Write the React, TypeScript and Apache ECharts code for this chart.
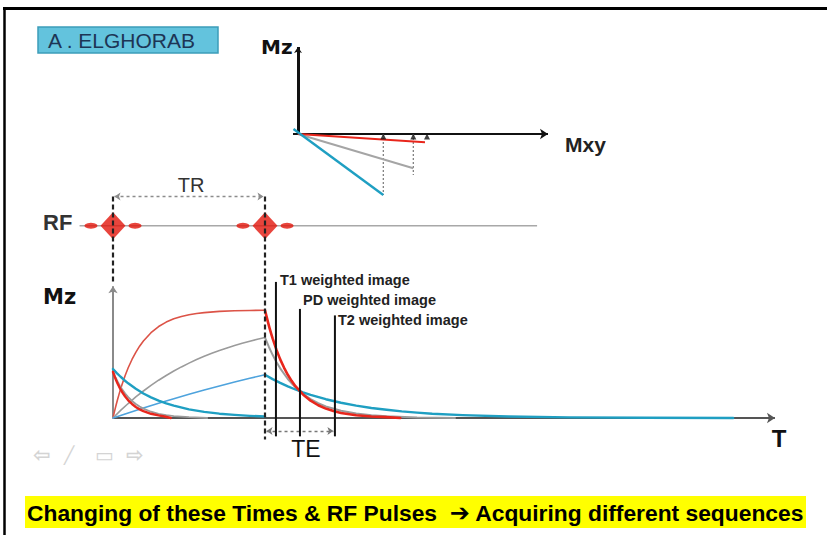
import React, { useEffect, useRef } from "react";
import * as echarts from "echarts";

// ---------- Main Mz(T) diagram data (T in arbitrary units, TR = 100) ----------
const TR = 100;
const RF_PULSE_TIMES = [0, TR];
const RF_LEVEL = 1.78;
const RF_LINE_RANGE = [-22, 279];
const RF_LOBE_OFFSET = 14.5;

const T_RED_REC = [0, 1, 2, 3, 4, 5, 6, 8, 10, 12.5, 15, 17.5, 20, 25, 30, 35, 40, 45, 50, 55, 60, 70, 80, 90, 100];
const MZ_RED_REC = [0, 0.061, 0.118, 0.171, 0.221, 0.268, 0.313, 0.393, 0.465, 0.542, 0.608, 0.665, 0.713, 0.79, 0.847, 0.888, 0.918, 0.94, 0.956, 0.968, 0.976, 0.987, 0.993, 0.996, 0.998];

const T_GRAY_REC = [0, 5, 10, 15, 20, 25, 30, 35, 40, 45, 50, 55, 60, 65, 70, 75, 80, 85, 90, 95, 100];
const MZ_GRAY_REC = [0, 0.07, 0.134, 0.195, 0.25, 0.302, 0.35, 0.394, 0.435, 0.473, 0.508, 0.541, 0.571, 0.599, 0.625, 0.649, 0.672, 0.692, 0.711, 0.729, 0.745];

const T_BLUE_REC = [0, 10, 20, 30, 40, 50, 60, 70, 80, 90, 100];
const MZ_BLUE_REC = [0, 0.047, 0.093, 0.137, 0.179, 0.22, 0.259, 0.297, 0.333, 0.368, 0.4];

const T_RED_DEC = [100, 101, 102, 103, 104, 105, 107.5, 110, 112.5, 115, 117.5, 120, 125, 130, 135, 140, 145, 150, 160, 170, 180, 189];
const MZ_RED_DEC = [0.998, 0.941, 0.885, 0.833, 0.784, 0.737, 0.633, 0.543, 0.467, 0.4, 0.344, 0.295, 0.218, 0.16, 0.118, 0.087, 0.064, 0.047, 0.026, 0.014, 0.008, 0];

const T_GRAY_DEC = [100, 102.5, 105, 107.5, 110, 115, 120, 125, 130, 135, 140, 150, 160, 170, 180, 200, 225];
const MZ_GRAY_DEC = [0.745, 0.66, 0.585, 0.519, 0.46, 0.361, 0.283, 0.223, 0.175, 0.137, 0.108, 0.067, 0.041, 0.025, 0.016, 0.005, 0];

const T_TEAL_DEC = [100, 105, 110, 115, 120, 125, 130, 140, 150, 160, 170, 180, 190, 200, 210, 230, 260, 300, 350, 408];
const MZ_TEAL_DEC = [0.4, 0.36, 0.325, 0.293, 0.264, 0.238, 0.214, 0.174, 0.141, 0.115, 0.093, 0.076, 0.061, 0.05, 0.04, 0.027, 0.014, 0.006, 0.002, 0];

const T_RED_LEFT = [0, 1, 2, 3, 4, 5, 6, 8, 10, 12.5, 15, 17.5, 20, 25, 30, 34, 38];
const MZ_RED_LEFT = [0.426, 0.387, 0.352, 0.32, 0.291, 0.265, 0.241, 0.199, 0.164, 0.13, 0.102, 0.08, 0.063, 0.039, 0.024, 0.014, 0];

const T_GRAY_LEFT = [0, 1.5, 3, 4.5, 6, 8, 10, 12.5, 15, 17.5, 20, 25, 30, 35, 40, 50, 62];
const MZ_GRAY_LEFT = [0.43, 0.381, 0.338, 0.3, 0.266, 0.227, 0.193, 0.158, 0.13, 0.106, 0.087, 0.058, 0.039, 0.026, 0.018, 0.008, 0];

const T_TEAL_LEFT = [0, 2.5, 5, 7.5, 10, 15, 20, 25, 30, 35, 40, 50, 60, 70, 80, 90, 100];
const MZ_TEAL_LEFT = [0.454, 0.416, 0.382, 0.35, 0.321, 0.27, 0.227, 0.191, 0.161, 0.135, 0.114, 0.08, 0.057, 0.04, 0.029, 0.02, 0.014];

const TE_LABELS = ["T1 weighted image", "PD weighted image", "T2 weighted image"];
const TE_TIMES = [107.2, 123, 146];
const TE_TOPS = [1.26, 1.01, 0.95];
const TE_BOTTOM = -0.17;
const TE_ARROW_LEVEL = -0.12;
const TR_ARROW_LEVEL = 2.05;
const T_AXIS_END = 435.5;
const MZ_AXIS_END = 1.22;

// ---------- Vector diagram data ----------
const VEC_TEAL = [[-0.045, 0.05], [0.853, -0.61]];
const VEC_GRAY = [[0, 0], [1.153, -0.343]];
const VEC_RED = [[0, 0], [1.27, -0.083]];
const VEC_DROP_X = [0.853, 1.153];
const VEC_DROP_Y = [-0.61, -0.41];
const VEC_MARK_X = [0.853, 1.153, 1.29];
const VEC_MZ_END = 0.87;
const VEC_MXY_RANGE = [-0.05, 2.5];

const zip = (t: number[], v: number[]) => t.map((x, i) => [x, v[i]]);

const FONT = '"Liberation Sans", Arial, sans-serif';
const BOLD_FONT = '"DejaVu Sans", "Liberation Sans", sans-serif';

function curve(name: string, data: number[][], color: string, width: number, z = 3) {
  return {
    name,
    type: "line",
    data,
    symbol: "none",
    smooth: false,
    silent: true,
    z,
    lineStyle: { color, width, join: "round", cap: "round" },
  };
}

function seg(name: string, data: number[][], color: string, width: number, type: any = "solid", xi = 0, z = 2) {
  return {
    name,
    type: "line",
    xAxisIndex: xi,
    yAxisIndex: xi,
    data,
    symbol: "none",
    silent: true,
    z,
    lineStyle: { color, width, type },
  };
}

function arrowLine(name: string, coords: number[][], color: string, width: number, symbol: any, size: number, type: any = "solid", xi = 0) {
  return {
    name,
    type: "lines",
    coordinateSystem: "cartesian2d",
    xAxisIndex: xi,
    yAxisIndex: xi,
    silent: true,
    z: 2,
    symbol,
    symbolSize: size,
    lineStyle: { color, width, type, opacity: 1 },
    data: [{ coords }],
  };
}

export default function App() {
  const ref = useRef<HTMLDivElement>(null);
  useEffect(() => {
    document.body.style.margin = "0";
    const chart = echarts.init(ref.current!, null, { renderer: "svg" });

    const RED = "#e8261c";
    const RED_THIN = "#dc5347";
    const GRAY = "#9b9b9b";
    const BLUE = "#4ea3dd";
    const TEAL = "#1f9fc2";

    const series: any[] = [
      arrowLine("T axis", [[0, 0], [T_AXIS_END, 0]], "#555", 2, ["none", "arrow"], 8),
      arrowLine("Mz axis", [[0, 0], [0, MZ_AXIS_END]], "#8a8a8a", 2, ["none", "arrow"], 7),
      seg("RF line", [[RF_LINE_RANGE[0], RF_LEVEL], [RF_LINE_RANGE[1], RF_LEVEL]], "#a8a8a8", 1.3),
      {
        name: "RF lobes",
        type: "scatter",
        data: RF_PULSE_TIMES.flatMap((t) => [[t - RF_LOBE_OFFSET, RF_LEVEL], [t + RF_LOBE_OFFSET, RF_LEVEL]]),
        symbol: "circle",
        symbolSize: [13, 6],
        itemStyle: { color: "#e2170c" },
        silent: true,
        z: 4,
      },
      {
        name: "RF pulses",
        type: "scatter",
        data: RF_PULSE_TIMES.map((t) => [t, RF_LEVEL]),
        symbol: "diamond",
        symbolSize: [25, 27],
        itemStyle: { color: "#e2170c" },
        silent: true,
        z: 4,
      },
      seg("TR left", [[0, TR_ARROW_LEVEL], [0, MZ_AXIS_END + 0.02]], "#222", 2.2, [5, 3], 0, 5),
      seg("TR right", [[TR, TR_ARROW_LEVEL], [TR, -0.2]], "#222", 2.2, [5, 3], 0, 5),
      arrowLine("TR arrow", [[1, TR_ARROW_LEVEL], [TR - 1, TR_ARROW_LEVEL]], "#8c8c8c", 1.3, ["arrow", "arrow"], 6, [3, 3]),
      curve("Red recovery", zip(T_RED_REC, MZ_RED_REC), RED_THIN, 1.6),
      curve("Gray recovery", zip(T_GRAY_REC, MZ_GRAY_REC), GRAY, 1.6),
      curve("Blue recovery", zip(T_BLUE_REC, MZ_BLUE_REC), BLUE, 1.6),
      curve("Gray left", zip(T_GRAY_LEFT, MZ_GRAY_LEFT), GRAY, 1.8),
      curve("Teal left", zip(T_TEAL_LEFT, MZ_TEAL_LEFT), TEAL, 2.4),
      curve("Red left", zip(T_RED_LEFT, MZ_RED_LEFT), RED, 2.4),
      curve("Gray decay", zip(T_GRAY_DEC, MZ_GRAY_DEC), GRAY, 2),
      curve("Teal decay", zip(T_TEAL_DEC, MZ_TEAL_DEC), TEAL, 2.4),
      curve("Red decay", zip(T_RED_DEC, MZ_RED_DEC), RED, 2.6, 4),
      ...TE_TIMES.map((t, i) => seg(TE_LABELS[i], [[t, TE_BOTTOM], [t, TE_TOPS[i]]], "#111", 2, "solid", 0, 6)),
      arrowLine("TE arrow", [[TR + 1, TE_ARROW_LEVEL], [TE_TIMES[2] - 1, TE_ARROW_LEVEL]], "#777", 1.3, ["arrow", "arrow"], 6, [3, 3]),
      arrowLine("Vec Mz", [[0, 0], [0, VEC_MZ_END]], "#111", 3, ["none", "arrow"], 6, "solid", 1),
      arrowLine("Vec Mxy", [[VEC_MXY_RANGE[0], 0], [VEC_MXY_RANGE[1], 0]], "#111", 2, ["none", "arrow"], 8, "solid", 1),
      ...VEC_DROP_X.map((x, i) => seg("drop" + i, [[x, 0], [x, VEC_DROP_Y[i]]], "#777", 1.2, [2, 2], 1, 2)),
      seg("Vec gray", VEC_GRAY, "#a5a5a5", 2, "solid", 1, 3),
      seg("Vec red", VEC_RED, "#e8261c", 2, "solid", 1, 3),
      seg("Vec teal", VEC_TEAL, "#1f9fc2", 2.4, "solid", 1, 3),
      {
        name: "Vec marks",
        type: "scatter",
        xAxisIndex: 1,
        yAxisIndex: 1,
        data: VEC_MARK_X.map((x) => [x, -0.025]),
        symbol: "triangle",
        symbolSize: [6, 6],
        itemStyle: { color: "#111" },
        silent: true,
        z: 5,
      },
    ];

    const txt = (text: string, x: number, y: number, font: string, fill = "#111", align = "left") => ({
      type: "text",
      x,
      y,
      silent: true,
      style: { text, font, fill, align, verticalAlign: "middle" },
    });

    const option: any = {
      animation: false,
      backgroundColor: "#ffffff",
      grid: [
        { left: 37, top: 148, width: 744.8, height: 324 },
        { left: 288, top: 44, width: 270, height: 160 },
      ],
      xAxis: [
        { type: "value", gridIndex: 0, min: -50, max: 440, show: false },
        { type: "value", gridIndex: 1, min: -0.1, max: 2.6, show: false },
      ],
      yAxis: [
        { type: "value", gridIndex: 0, min: -0.5, max: 2.5, show: false },
        { type: "value", gridIndex: 1, min: -0.7, max: 0.9, show: false },
      ],
      series,
      graphic: [
        { type: "line", silent: true, shape: { x1: 3, y1: 8.5, x2: 827, y2: 8.5 }, style: { stroke: "#000", lineWidth: 3 } },
        { type: "line", silent: true, shape: { x1: 4.5, y1: 7, x2: 4.5, y2: 535 }, style: { stroke: "#000", lineWidth: 2.5 } },
        { type: "rect", silent: true, shape: { x: 38, y: 27, width: 180, height: 26 }, style: { fill: "#63c3dd", stroke: "#3d9db9", lineWidth: 1.5 } },
        txt("A . ELGHORAB", 48, 40.5, `21px ${FONT}`, "#1d3555"),
        txt("Mz", 261, 47, `bold 20px ${BOLD_FONT}`, "#111"),
        txt("Mxy", 565, 144, `bold 21px ${FONT}`, "#222"),
        txt("RF", 43, 222, `bold 22px ${FONT}`, "#333"),
        txt("TR", 191, 185, `20px ${FONT}`, "#333", "center"),
        txt("Mz", 43, 297, `bold 21px ${BOLD_FONT}`, "#111"),
        txt(TE_LABELS[0], 280, 280, `bold 14.5px ${FONT}`, "#222"),
        txt(TE_LABELS[1], 303, 300, `bold 14.5px ${FONT}`, "#222"),
        txt(TE_LABELS[2], 338, 319.5, `bold 14.5px ${FONT}`, "#222"),
        txt("TE", 306, 449, `23px ${FONT}`, "#111", "center"),
        txt("T", 779, 438, `bold 24px ${FONT}`, "#111", "center"),
        txt("⇦", 33, 455, `bold 21px "DejaVu Sans", sans-serif`, "#d4d4d4"),
        txt("╱", 64, 455, `bold 17px "DejaVu Sans", sans-serif`, "#d4d4d4"),
        txt("▭", 95, 455, `bold 20px "DejaVu Sans", sans-serif`, "#d4d4d4"),
        txt("⇨", 126, 455, `bold 21px "DejaVu Sans", sans-serif`, "#d4d4d4"),
        { type: "rect", silent: true, shape: { x: 25, y: 496, width: 781, height: 32 }, style: { fill: "#ffff00" } },
        {
          type: "text",
          x: 27,
          y: 512.5,
          silent: true,
          style: {
            text: "{a|Changing of these Times & RF Pulses  }{b|➔}{a| Acquiring different sequences}",
            verticalAlign: "middle",
            align: "left",
            rich: {
              a: { fontFamily: FONT, fontWeight: "bold", fontSize: 22.8, fill: "#000" },
              b: { fontFamily: '"DejaVu Sans", sans-serif', fontWeight: "bold", fontSize: 24, fill: "#000" },
            },
          },
        },
      ],
    };

    chart.setOption(option);
    return () => chart.dispose();
  }, []);
  return <div ref={ref} style={{ width: 827, height: 535 }} />;
}
